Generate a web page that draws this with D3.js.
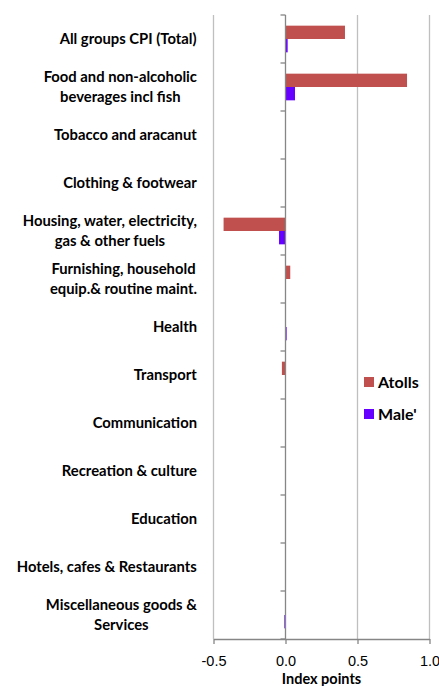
<!DOCTYPE html>
<html>
<head>
<meta charset="utf-8">
<script src="https://cdn.jsdelivr.net/npm/d3@7"></script>
<style>
  body { margin: 0; background: #fff; }
  svg { display: block; font-family: Lato, "Open Sans", sans-serif; }
  .cat { font-weight: bold; font-size: 14.8px; fill: #000; }
  .tick-lbl { font-size: 14.5px; fill: #000; }
</style>
</head>
<body>
<svg width="439" height="686"></svg>
<script>
var categories = [
  ["All groups CPI (Total)"],
  ["Food and non-alcoholic", "beverages incl fish"],
  ["Tobacco and aracanut"],
  ["Clothing & footwear"],
  ["Housing, water, electricity,", "gas & other fuels"],
  ["Furnishing, household", "equip.& routine maint."],
  ["Health"],
  ["Transport"],
  ["Communication"],
  ["Recreation & culture"],
  ["Education"],
  ["Hotels, cafes & Restaurants"],
  ["Miscellaneous goods &", "Services"]
];
var series = ["Atolls", "Male'"];
var atolls = [0.413, 0.844, 0, 0, -0.43, 0.033, 0, -0.025, 0, -0.003, 0, 0, 0];
var male   = [0.015, 0.066, 0, -0.003, -0.045, 0, 0.008, -0.002, -0.002, 0, 0, 0, -0.008];
var xTicks = [-0.5, 0, 0.5, 1.0];
var colors = ["#c0504d", "#6600ff"];

var svg = d3.select("svg");
var margin = {left: 213.5, right: 9.5, top: 15, bottom: 47};
var width = 439 - margin.left - margin.right;
var height = 686 - margin.top - margin.bottom;

var xScale = d3.scaleLinear().domain([-0.5, 1.0]).range([margin.left, margin.left + width]);
var yScale = d3.scaleBand()
    .domain(d3.range(categories.length))
    .range([margin.top, margin.top + height]);
var ySub = d3.scaleBand()
    .domain(series)
    .range([0, yScale.bandwidth()])
    .paddingOuter(0.8);

var data = categories.map(function(c, i) {
  return [{s: series[0], v: atolls[i]}, {s: series[1], v: male[i]}];
});

// gridlines
svg.append("g")
    .selectAll("line")
    .data(xTicks.filter(function(d) { return d !== 0; }))
    .enter().append("line")
    .attr("x1", function(d) { return xScale(d); })
    .attr("x2", function(d) { return xScale(d); })
    .attr("y1", margin.top)
    .attr("y2", margin.top + height)
    .attr("stroke", "#bfbfbf")
    .attr("stroke-width", 1.3);

// bars
var groups = svg.append("g")
    .selectAll("g")
    .data(data)
    .enter().append("g")
    .attr("transform", function(d, i) { return "translate(0," + yScale(i) + ")"; });

groups.selectAll("rect")
    .data(function(d) { return d; })
    .enter().append("rect")
    .attr("x", function(d) { return xScale(Math.min(0, d.v)); })
    .attr("width", function(d) { return Math.abs(xScale(d.v) - xScale(0)); })
    .attr("y", function(d) { return ySub(d.s); })
    .attr("height", ySub.bandwidth())
    .attr("fill", function(d, i) { return colors[i]; });

// zero axis with category ticks
var zeroAxis = svg.append("g")
    .attr("transform", "translate(" + xScale(0) + ",0)");
zeroAxis.append("line")
    .attr("y1", margin.top).attr("y2", margin.top + height)
    .attr("stroke", "#868686").attr("stroke-width", 1.3);
zeroAxis.selectAll(".ct")
    .data(d3.range(categories.length + 1))
    .enter().append("line")
    .attr("x1", -5).attr("x2", 0)
    .attr("y1", function(d) { return margin.top + d * yScale.step(); })
    .attr("y2", function(d) { return margin.top + d * yScale.step(); })
    .attr("stroke", "#868686").attr("stroke-width", 1.3);

// bottom axis
var xAxis = svg.append("g")
    .attr("transform", "translate(0," + (margin.top + height) + ")")
    .call(d3.axisBottom(xScale)
        .tickValues(xTicks)
        .tickFormat(function(d) { return d.toFixed(1); })
        .tickSize(5)
        .tickSizeOuter(0));
xAxis.select(".domain").attr("stroke", "#868686").attr("stroke-width", 1.3);
xAxis.selectAll(".tick line").attr("stroke", "#868686").attr("stroke-width", 1.3);
xAxis.selectAll(".tick text")
    .attr("class", "tick-lbl")
    .attr("font-family", null)
    .attr("font-size", null)
    .attr("dy", null)
    .attr("y", 27);

svg.append("text")
    .attr("x", xScale(0.25))
    .attr("y", 684)
    .attr("text-anchor", "middle")
    .attr("font-weight", "bold")
    .attr("font-size", "14.5px")
    .text("Index points");

// category labels
var labels = svg.append("g")
    .selectAll("text")
    .data(categories)
    .enter().append("text")
    .attr("class", "cat")
    .attr("text-anchor", "middle");

labels.each(function(lines, i) {
  var t = d3.select(this);
  var cy = yScale(i) + yScale.bandwidth() / 2;
  var lh = 19.5;
  lines.forEach(function(line, j) {
    t.append("tspan")
      .attr("x", 0)
      .attr("y", cy + (j - (lines.length - 1) / 2) * lh + 5)
      .text(line);
  });
  var w = this.getBBox().width;
  t.selectAll("tspan").attr("x", 197 - w / 2);
});

// legend
var legend = svg.append("g")
    .selectAll("g")
    .data(series)
    .enter().append("g")
    .attr("transform", function(d, i) { return "translate(364," + (377 + i * 32) + ")"; });
legend.append("rect")
    .attr("width", 10).attr("height", 10)
    .attr("fill", function(d, i) { return colors[i]; });
legend.append("text")
    .attr("x", 14).attr("y", 10.5)
    .attr("font-weight", "bold")
    .attr("font-size", "16px")
    .text(function(d) { return d; });
</script>
</body>
</html>
